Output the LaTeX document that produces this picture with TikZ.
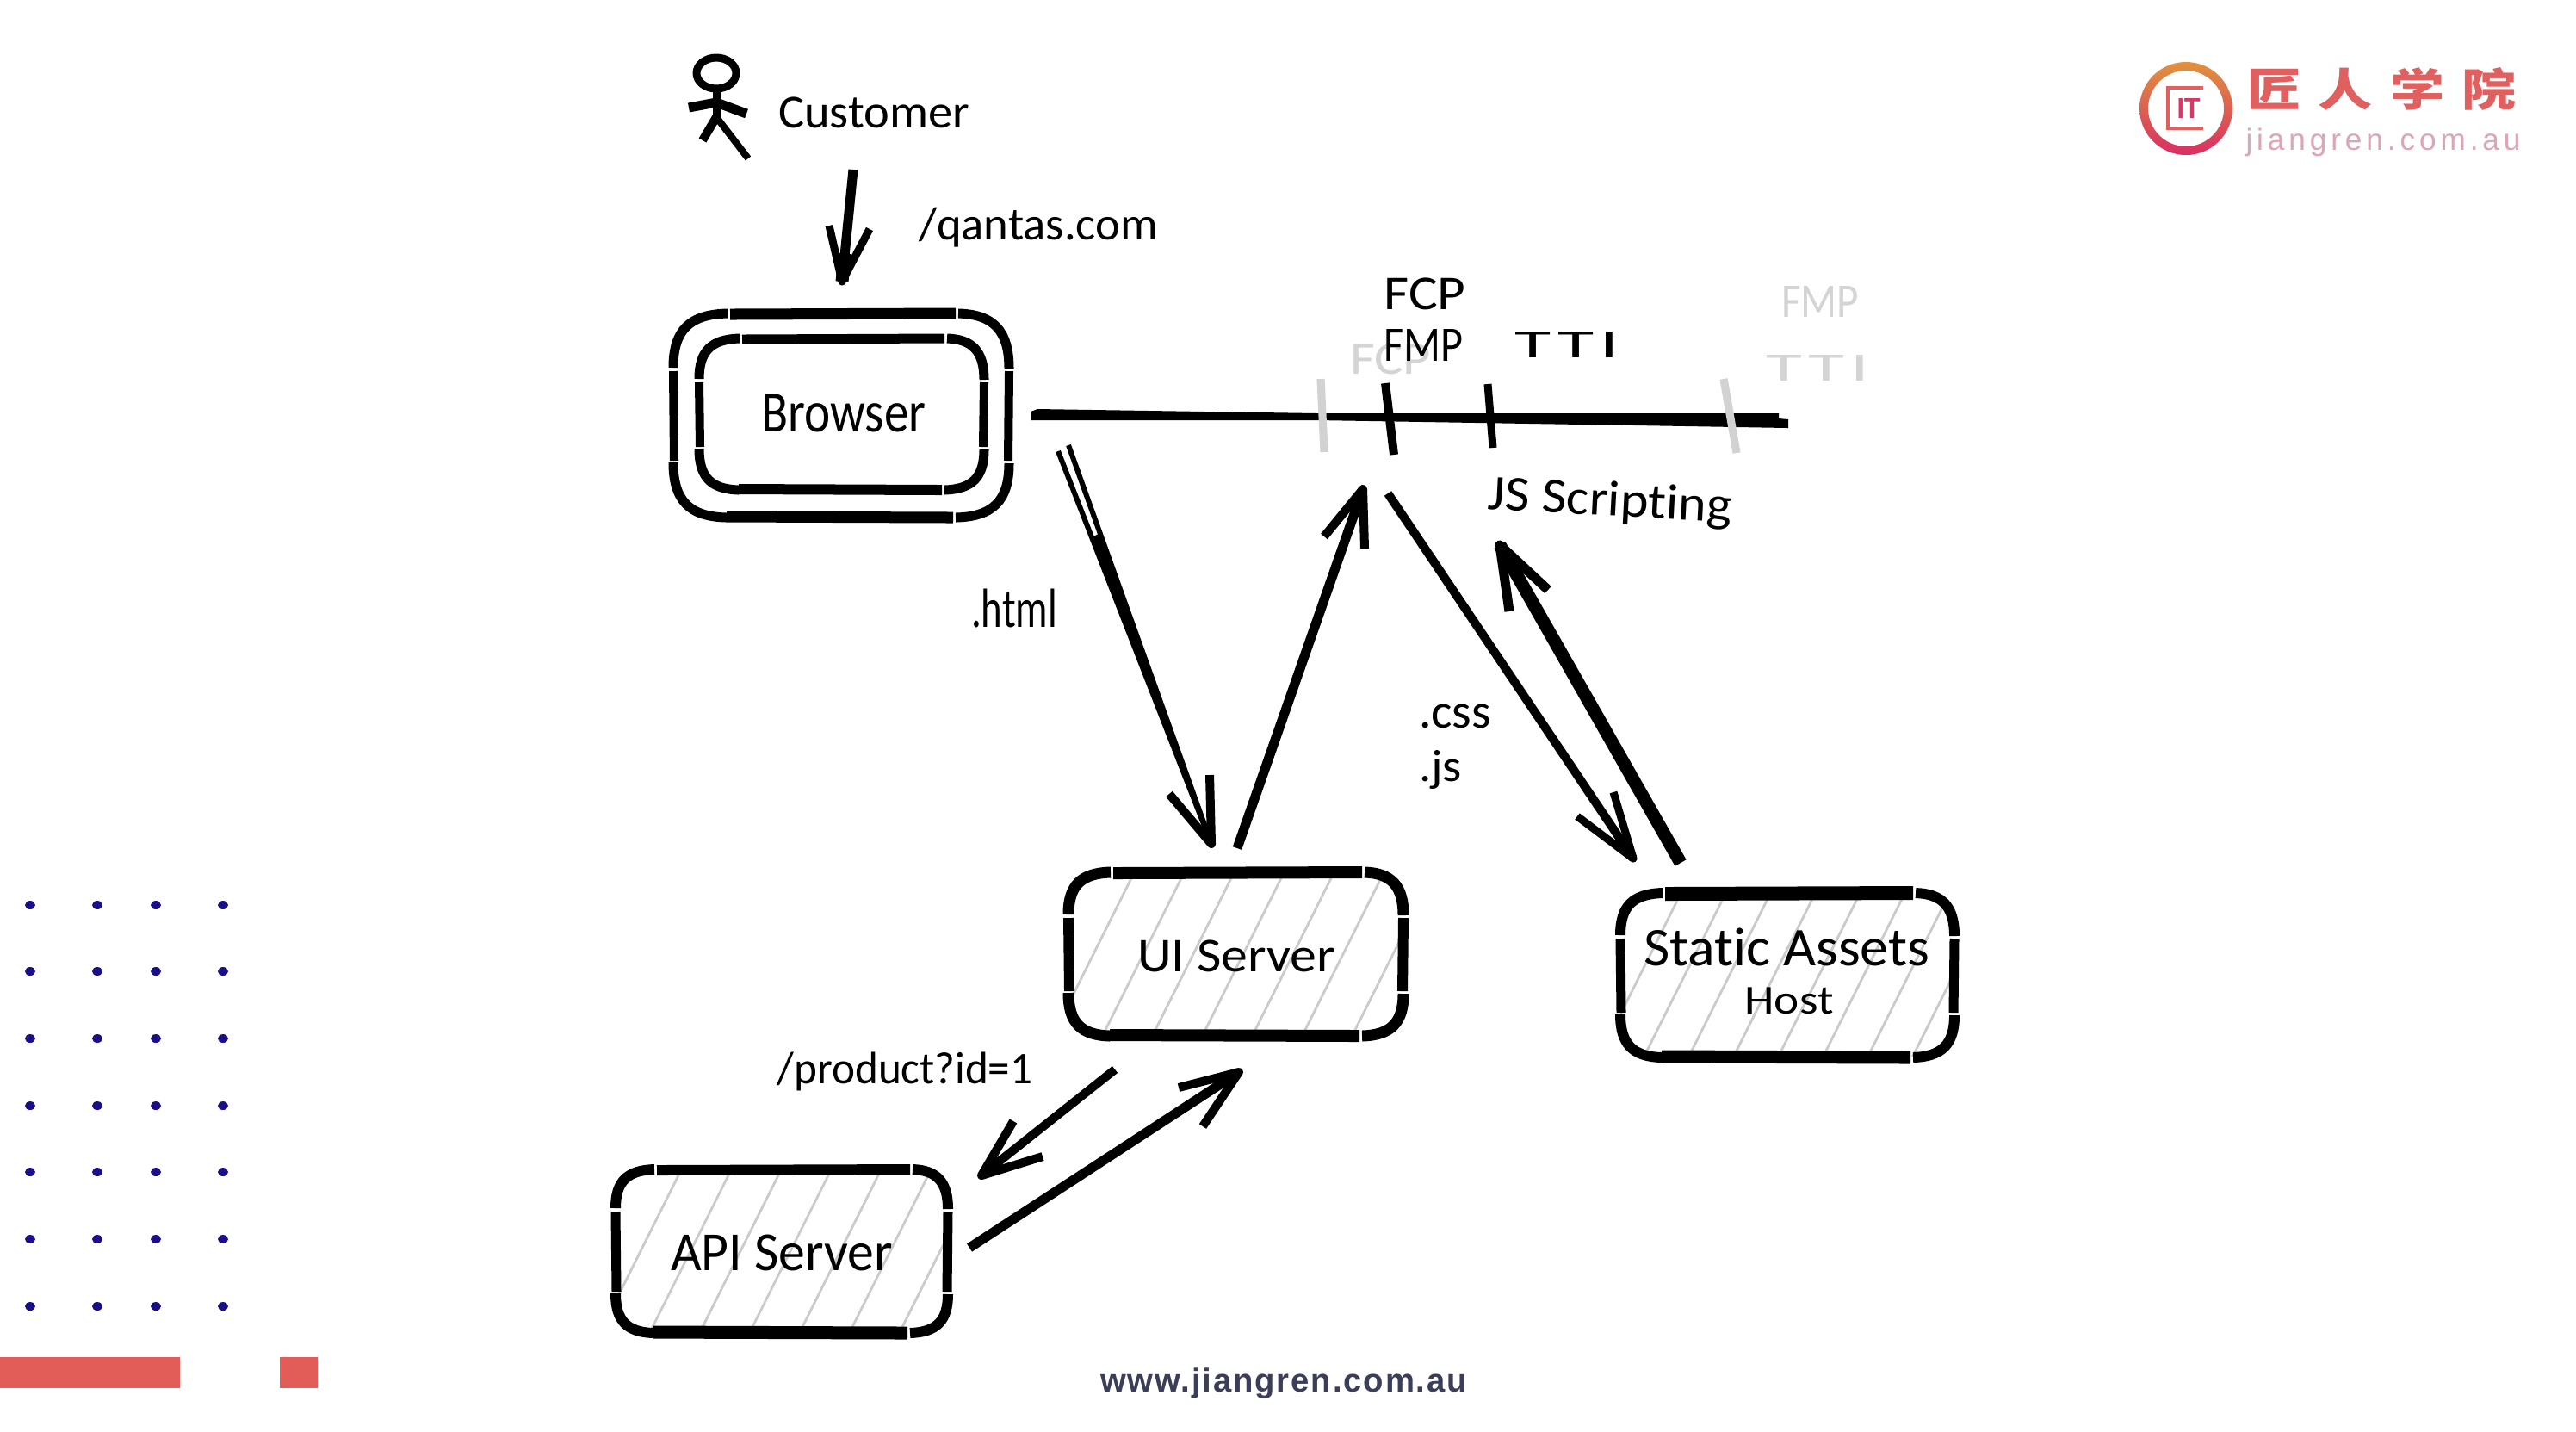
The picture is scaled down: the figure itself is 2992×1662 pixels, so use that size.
\documentclass[tikz,border=0pt]{standalone}
\usepackage{fontspec}
\usepackage{graphicx}
\setmainfont[Ligatures=NoCommon]{Carlito}
\newfontfamily\cjk{Noto Sans CJK SC}
\newfontfamily\plainsans{Liberation Sans}
\newfontfamily\widesans[LetterSpace=14]{Liberation Sans}
\newfontfamily\footsans[LetterSpace=5]{Liberation Sans}
\newfontfamily\ttifont[Ligatures=NoCommon,LetterSpace=8]{Carlito}
\usetikzlibrary{calc}
\newdimen\pxu \pxu=0.01cm
\definecolor{hatchgrey}{HTML}{CBCBCB}
\definecolor{ghost}{HTML}{D2D2D2}
\definecolor{ghosttext}{HTML}{D4D4D4}
\definecolor{dotblue}{HTML}{1B0F85}
\definecolor{barred}{HTML}{E35D58}
\definecolor{logored}{HTML}{E0605F}
\definecolor{logopink}{HTML}{DCA6B4}
\definecolor{footink}{HTML}{3B3E58}
\definecolor{logotop}{HTML}{E0923F}
\definecolor{logobot}{HTML}{D82F63}
\tikzset{
  ink/.style={line width={(#1)*0.2845pt}, line join=round, line cap=butt, color=black},
  hatchline/.style={line width=0.8pt, color=hatchgrey},
  ghosttick/.style={line width=2.6pt, color=ghost},
  hand/.style={inner sep=0pt, outer sep=0pt, text=black},
  ghostlabel/.style={inner sep=0pt, outer sep=0pt, text=ghosttext},
  dotmark/.style={fill=dotblue, draw=none},
  redbar/.style={fill=barred, draw=none}
}
% x, y extents (px) and text
\newcommand\hw[3]{\resizebox*{#1\pxu}{#2\pxu}{#3}}
% x1 y1 x2 y2 r topw botw sidew
\newcommand\skbox[8]{%
  \draw[ink=#6] ({#1+#5+4},#2) -- ({#3-#5},{#2-1});
  \draw[ink=#7] ({#1+#5},#4) -- ({#3-#5-3},{#4+1});
  \draw[ink=#8] (#1,{#2+#5+4}) -- ({#1+1},{#4-#5-3});
  \draw[ink=#8] (#3,{#2+#5+4}) -- ({#3-1},{#4-#5-3});
  \draw[ink=#8+1] (#1,{#2+#5}) .. controls (#1,{#2+.3*#5}) and ({#1+.3*#5},#2) .. ({#1+#5+1},{#2-1});
  \draw[ink=#8+1] ({#3-#5+3},{#2-1}) .. controls ({#3-.3*#5},#2) and (#3,{#2+.3*#5}) .. (#3,{#2+#5+1});
  \draw[ink=#8+1] (#1,{#4-#5-1}) .. controls (#1,{#4-.3*#5}) and ({#1+.3*#5},#4) .. ({#1+#5},{#4+1});
  \draw[ink=#8+1] ({#3-#5},{#4+1}) .. controls ({#3-.3*#5},#4) and (#3,{#4-.3*#5}) .. (#3,{#4-#5});
}
% x1 y1 x2 y2 spacing
\newcommand\skhatch[5]{%
  \begin{scope}
    \clip[rounded corners=0.5cm] (#1,#2) rectangle (#3,#4);
    \pgfmathsetmacro\hdx{(#4-#2)*0.5}
    \foreach \k in {0,...,12}{
      \draw[hatchline] ({#1-\hdx+\k*#5+18},#4) -- ({#1+\k*#5+18},#2);
    }
  \end{scope}
}
% name: start tip barb1 barb2 shaftw barbw
\newcommand\skarrow[6]{%
  \draw[ink=#5] (#1) -- (#2);
  \draw[ink=#6] (#3) -- (#2) -- (#4);
}
\begin{document}
\begin{tikzpicture}[x=0.01cm,y=-0.01cm]
\useasboundingbox (0,0) rectangle (2992,1662);
\fill[white] (0,0) rectangle (2992,1662);

% ---------- decoration: dots and bars
\foreach \dx in {35,113,181,259}{
  \foreach \dy in {1051,1128,1206,1284,1361,1439,1517}{
    \fill[dotmark] (\dx,\dy) ellipse [x radius=6, y radius=5];
  }
}
\fill[redbar] (0,1576) rectangle (209,1612);
\fill[redbar] (325,1576) rectangle (369,1612);

% ---------- logo
\shade[even odd rule, top color=logotop, bottom color=logobot]
  (2539,126) circle [radius=54] (2539,126) circle [radius=44];
\draw[color=logored, line width=1.3pt] (2559,102) -- (2518,102) -- (2518,149) -- (2559,149);
\node[inner sep=0pt, text=logobot!85!logored] (logoit) at (2542,126) {\hw{27}{23}{\plainsans\bfseries IT}};
\node[inner sep=0pt, text=logored] (logocn) at (2766,103)
  {\hw{312}{50}{\cjk\bfseries\fontsize{18}{18}\selectfont 匠\kern 5.7pt人\kern 5.7pt学\kern 5.7pt院}};
\node[inner sep=0pt, text=logopink] (logourl) at (2768,165)
  {\resizebox{319\pxu}{!}{\widesans jiangren.com.au}};

% ---------- customer
\draw[ink=9] (832,85) ellipse [x radius=23, y radius=18];
\draw[ink=9] (832,104) -- (832,138);
\draw[ink=11] (800,125) -- (832,119) -- (867,132);
\draw[ink=10] (816,163) -- (832,136);
\draw[ink=8] (832,136) -- (869,184);
\node[hand] (customer) at (1015,131) {\hw{222}{36}{Customer}};

\coordinate (c1s) at (991,197);
\coordinate (c1t) at (978,327);
\coordinate (c1a) at (963,262);
\coordinate (c1b) at (1010,266);
\skarrow{c1s}{c1t}{c1a}{c1b}{11}{9}
\draw[ink=15] (c1t) -- ($(c1t)!0.25!(c1s)$);
\node[hand] (qantas) at (1206,264) {\hw{278}{46}{/qantas.com}};

% ---------- browser
\skbox{782}{365}{1172}{600}{62}{13}{13}{10}
\skbox{812}{394}{1143}{568}{46}{11}{12}{10}
\node[hand] (browser) at (980,480) {\hw{191}{44}{Browser}};

% ---------- timeline
\fill[black] (1197,478) -- (1205,475) -- (1530,480) -- (2066,480) -- (2066,486) -- (2077,487)
  -- (2077,497) -- (1900,494) -- (1530,488) -- (1197,488) -- cycle;
\coordinate (g1a) at (1534,440); \coordinate (g1b) at (1538,525);
\coordinate (g2a) at (2002,440); \coordinate (g2b) at (2017,526);
\draw[ghosttick] (g1a) -- (g1b);
\draw[ghosttick] (g2a) -- (g2b);
\coordinate (t1a) at (1609,445); \coordinate (t1b) at (1619,528);
\coordinate (t2a) at (1728,446); \coordinate (t2b) at (1734,520);
\draw[ink=10] (t1a) -- (t1b);
\draw[ink=9] (t2a) -- (t2b);
\node[ghostlabel] (gfcp) at (1615,417) {\hw{94}{35}{FCP}};
\node[ghostlabel] (gfmp) at (2114,350) {\hw{90}{36}{FMP}};
\node[ghostlabel] (gtti) at (2111,427) {\hw{120}{30}{\ttifont TTI}};
\node[hand] (fcp) at (1655,341) {\hw{95}{37}{FCP}};
\node[hand] (fmp) at (1653,401) {\hw{92}{37}{FMP}};
\node[hand] (tti) at (1820,400) {\hw{121}{30}{\ttifont TTI}};
\node[hand, rotate=-3] (js) at (1870,584) {\hw{284}{50}{JS Scripting}};

% ---------- servers
\skhatch{1241}{1014}{1630}{1202}{58}
\skbox{1241}{1014}{1630}{1202}{48}{14}{14}{12}
\node[hand] (ui) at (1436,1110) {\hw{230}{37}{UI Server}};

\skhatch{715}{1359}{1101}{1547}{58}
\skbox{715}{1359}{1101}{1547}{44}{12}{15}{11}
\node[hand] (api) at (908,1455) {\hw{258}{42}{API Server}};

\skhatch{1882}{1038}{2270}{1227}{52}
\skbox{1882}{1038}{2270}{1227}{48}{16}{15}{11}
\node[hand] (static) at (2075,1100) {\hw{332}{44}{Static Assets}};
\node[hand] (host) at (2078,1162) {\hw{103}{31}{Host}};

% ---------- html arrow pair
\coordinate (h1) at (1229,524);
\coordinate (h2) at (1241,517);
\coordinate (ht) at (1407,980);
\coordinate (hb1) at (1358,922);
\coordinate (hb2) at (1405,900);
\fill[black] ($(h1)!0.22!(ht)$) -- ($(h2)!0.22!(ht)$) -- (ht) -- cycle;
\draw[ink=6] (h1) -- (ht);
\draw[ink=6] (h2) -- (ht);
\draw[ink=10] (hb1) -- (ht) -- (hb2);
\node[hand] (html) at (1178,706) {\hw{100}{45}{.html}};

\coordinate (r1s) at (1437,985);
\coordinate (r1t) at (1583,568);
\coordinate (r1a) at (1538,623);
\coordinate (r1b) at (1585,637);
\skarrow{r1s}{r1t}{r1a}{r1b}{11}{10}

\coordinate (d1s) at (1612,573);
\coordinate (d1t) at (1897,997);
\coordinate (d1a) at (1832,948);
\coordinate (d1b) at (1874,920);
\skarrow{d1s}{d1t}{d1a}{d1b}{10}{9}

\coordinate (u1s) at (1952,1002);
\coordinate (u1t) at (1742,633);
\coordinate (u1a) at (1753,710);
\coordinate (u1b) at (1798,685);
\skarrow{u1s}{u1t}{u1a}{u1b}{15}{11}

\node[hand] (css) at (1690,832) {\hw{84}{28}{.css}};
\node[hand] (jsx) at (1673,894) {\hw{50}{45}{.js}};

% ---------- api arrows
\coordinate (p1s) at (1295,1242);
\coordinate (p1t) at (1140,1365);
\coordinate (p1a) at (1177,1302);
\coordinate (p1b) at (1211,1343);
\skarrow{p1s}{p1t}{p1a}{p1b}{10}{10}
\node[hand] (product) at (1051,1244) {\hw{297}{45}{/product?id=1}};

\coordinate (p2s) at (1126,1449);
\coordinate (p2t) at (1439,1245);
\coordinate (p2a) at (1369,1263);
\coordinate (p2b) at (1397,1308);
\skarrow{p2s}{p2t}{p2a}{p2b}{11}{10}

% ---------- footer
\node[inner sep=0pt, text=footink] (footer) at (1491,1607)
  {\resizebox{426\pxu}{!}{\footsans\bfseries www.jiangren.com.au}};
\end{tikzpicture}
\end{document}
